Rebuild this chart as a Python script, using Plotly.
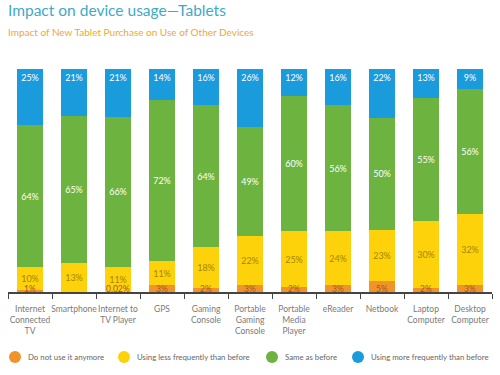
import plotly.graph_objects as go

categories = ["Internet<br>Connected<br>TV", "Smartphone", "Internet to<br>TV Player", "GPS",
              "Gaming<br>Console", "Portable<br>Gaming<br>Console", "Portable<br>Media<br>Player",
              "eReader", "Netbook", "Laptop<br>Computer", "Desktop<br>Computer"]
not_anymore = [1, 0, 0.02, 3, 2, 3, 2, 3, 5, 2, 3]
less_freq = [10, 13, 11, 11, 18, 22, 25, 24, 23, 30, 32]
same = [64, 65, 66, 72, 64, 49, 60, 56, 50, 55, 56]
more_freq = [25, 21, 21, 14, 16, 26, 12, 16, 22, 13, 9]

series = [
    ("Do not use it anymore", not_anymore, "#f0932b", "#a8551c", "middle"),
    ("Using less frequently than before", less_freq, "#fdd20a", "#a88400", "middle"),
    ("Same as before", same, "#6db33f", "white", "middle"),
    ("Using more frequently than before", more_freq, "#1a9bdc", "white", "end"),
]

FONT = "Lato"

def fmt(v):
    return "" if v == 0 else f"{v:g}%"

W, H = 500, 375
L, R, T, B = 8, 8, 69, 83
ph = H - T - B
pw = W - L - R

fig = go.Figure()
for i, (name, vals, color, tcolor, anchor) in enumerate(series):
    fig.add_trace(go.Bar(
        x=categories, y=vals, name=name, marker_color=color, marker_line_width=0,
        text=None if i == 0 else [fmt(v) for v in vals],
        textposition="none" if i == 0 else "inside", insidetextanchor=anchor,
        textangle=0, constraintext="none",
        textfont=dict(color=tcolor, size=9, family=FONT),
        showlegend=False, hoverinfo="skip",
    ))

# labels for the thin bottom segments, drawn just above the axis
for cat, v in zip(categories, not_anymore):
    if v:
        fig.add_annotation(x=cat, y=0, text=fmt(v), showarrow=False, yanchor="middle",
                           yshift=3.5, font=dict(size=8.5, color=series[0][3], family=FONT))

fig.update_layout(
    width=W, height=H,
    barmode="stack", barnorm="percent", bargap=0.43,
    margin=dict(l=L, r=R, t=T, b=B, autoexpand=False),
    paper_bgcolor="white", plot_bgcolor="white",
    font=dict(family=FONT, color="#777777"),
    showlegend=False,
    xaxis=dict(showline=True, linecolor="#444444", linewidth=1.5, ticks="outside",
               tickson="boundaries", ticklen=5, tickcolor="#444444", tickangle=0,
               ticklabelstandoff=8,
               tickfont=dict(size=8.5, color="#7a7a7a", family=FONT), fixedrange=True),
    yaxis=dict(visible=False, range=[0, 100], fixedrange=True),
)

def px_x(x):
    return (x - L) / pw

def px_y(y):
    return (H - B - y) / ph

fig.add_annotation(text="Impact on device usage\u2014Tablets", xref="paper", yref="paper",
                   x=px_x(6), y=px_y(9.5), xanchor="left", yanchor="middle",
                   showarrow=False, font=dict(size=15.5, color="#3fa9c9", family=FONT))
fig.add_annotation(text="Impact of New Tablet Purchase on Use of Other Devices", xref="paper", yref="paper",
                   x=px_x(6), y=px_y(32), xanchor="left", yanchor="middle",
                   showarrow=False, font=dict(size=10, color="#f0a830", family=FONT))

legend_x = [15, 124, 272, 358]
ly = 357
for (name, vals, color, tcolor, anchor), cx in zip(series, legend_x):
    fig.add_shape(type="circle", xref="paper", yref="paper",
                  x0=px_x(cx - 6), x1=px_x(cx + 6), y0=px_y(ly + 6), y1=px_y(ly - 6),
                  fillcolor=color, line_width=0)
    fig.add_annotation(text=name, xref="paper", yref="paper", x=px_x(cx + 11), y=px_y(ly),
                       xanchor="left", yanchor="middle", showarrow=False,
                       font=dict(size=7.8, color="#666666", family=FONT))

fig.write_html("out.html", config={"displayModeBar": False},
               post_script="document.body.style.margin='0';")
